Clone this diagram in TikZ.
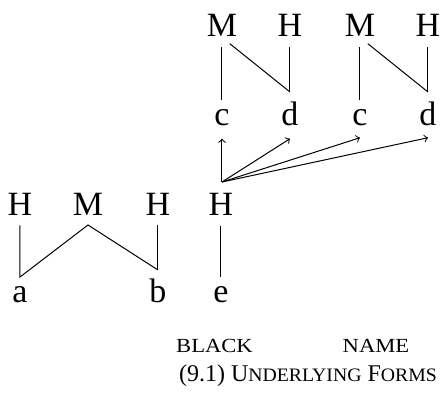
\documentclass[tikz,border=0pt]{standalone}
\usepackage{fontspec}
\usepackage{graphicx}
\setmainfont{Liberation Serif}
\newcommand\mysc[3]{\scalebox{#1}[1]{\fontsize{#2}{#2}\selectfont #3}}
\begin{document}
\begin{tikzpicture}[x=0.5pt,y=-0.5pt,
  seg/.style={inner sep=0pt,anchor=base,font=\fontsize{17pt}{18pt}\selectfont},
  lab/.style={inner sep=0pt,anchor=base},
  assoc/.style={line width=0.5pt,shorten <=5pt,shorten >=5pt},
  arr/.style={->,line width=0.5pt}]
\useasboundingbox (0,0) rectangle (441,401);
% top tiers
\node[seg] (M1) at (222,37) {M};
\node[seg] (H1) at (290,37) {H};
\node[seg] (M2) at (360,37) {M};
\node[seg] (H2) at (428,37) {H};
\node[seg] (c1) at (222,126) {c};
\node[seg] (d1) at (290,126) {d};
\node[seg] (c2) at (360,126) {c};
\node[seg] (d2) at (428,126) {d};
\coordinate (j1) at (290,92);
\coordinate (j2) at (428,92);
\draw[assoc] (M1.south) -- (c1.north);
\draw[line width=0.5pt,shorten <=5pt] (M1.south) -- (j1);
\draw[line width=0.5pt,shorten <=5pt] (H1.south) -- (j1);
\draw[assoc] (M2.south) -- (c2.north);
\draw[line width=0.5pt,shorten <=5pt] (M2.south) -- (j2);
\draw[line width=0.5pt,shorten <=5pt] (H2.south) -- (j2);
% bottom tiers
\node[seg] (Ha) at (20,216) {H};
\node[seg] (Mb) at (88,216) {M};
\node[seg] (Hb) at (158,216) {H};
\node[seg] (He) at (221,216) {H};
\node[seg] (a) at (20,303) {a};
\node[seg] (b) at (158,303) {b};
\node[seg] (e) at (221,303) {e};
\coordinate (ja) at (20,277);
\coordinate (jb) at (158,270);
\draw[line width=0.5pt,shorten <=4.5pt] (Ha.south) -- (ja) -- (Mb.south |- 0,225) -- (jb);
\draw[line width=0.5pt,shorten <=4.5pt] (Hb.south) -- (jb);
\draw[assoc] (He.south) -- (e.north);
% arrows
\coordinate (src) at (222,182);
\draw[arr] (src) -- ([yshift=-6pt]c1.south);
\draw[arr] (src) -- ([yshift=-6pt]d1.south);
\draw[arr] (src) -- ([yshift=-5.5pt]c2.south);
\draw[arr] (src) -- ([yshift=-5.5pt]d2.south);
% labels
\node[lab] (black) at (214.5,353) {\mysc{1.13}{10pt}{BLACK}};
\node[lab] (name) at (376,353) {\mysc{1.13}{10pt}{NAME}};
\node[lab] (cap) at (308,382) {\fontsize{12pt}{13pt}\selectfont (9.1) U\mysc{1.04}{9.5pt}{NDERLYING} F\mysc{1.04}{9.5pt}{ORMS}};
\end{tikzpicture}
\end{document}
